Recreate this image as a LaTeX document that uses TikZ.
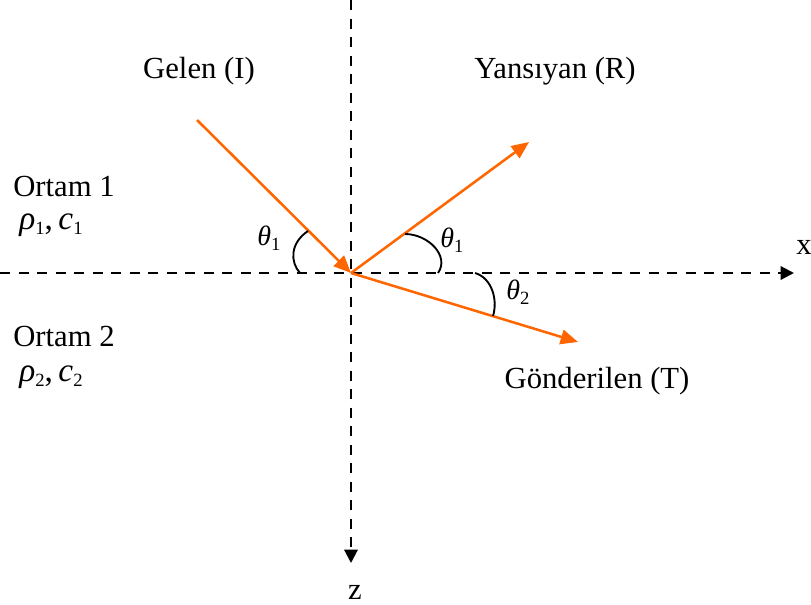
\documentclass[tikz,border=0pt]{standalone}
\usepackage{fontspec}
\setmainfont{Liberation Serif}
\usetikzlibrary{arrows.meta, positioning}
\definecolor{rayorange}{RGB}{255,102,0}
\tikzset{
  axisline/.style={line width=1.6pt, dash pattern=on 7.5pt off 6.4pt, -{Triangle[length=10pt,width=10pt]}},
  ray/.style={rayorange, line width=1.9pt, -{Triangle[length=13pt,width=11pt]}},
  anglearc/.style={line width=1.4pt},
  lbl/.style={font=\fontsize{23}{27}\selectfont, inner sep=0pt},
  medlbl/.style={font=\fontsize{25}{29}\selectfont, inner sep=0pt, anchor=west},
  anglbl/.style={font=\fontsize{21}{24}\selectfont, inner sep=0pt},
}
\newcommand{\lowsub}[1]{\raisebox{-0.35ex}{\fontsize{14}{16}\selectfont #1}}

\begin{document}
\begin{tikzpicture}[x=0.75pt,y=-0.75pt]
\useasboundingbox (0,0) rectangle (811,604);

% axes
\coordinate (O) at (351,273);
\coordinate (ztop) at (351,0);
\coordinate (zend) at (351,563);
\coordinate (xleft) at (0,273);
\coordinate (xend) at (794,273);
\draw[axisline] (ztop) -- (zend);
\draw[axisline] (xleft) -- (xend);
\node[lbl] (xlab) at (804,247) {x};
\node[lbl] (zlab) at (355,592) {z};

% rays
\coordinate (inc) at (197,120);
\coordinate (refl) at (529,142);
\coordinate (trans) at (578,342);
\draw[ray] (inc) -- (O);
\draw[ray] (O) -- (refl);
\draw[ray] (O) -- (trans);
\node[lbl] (gelen) at (199,71) {Gelen (I)};
\node[lbl] (yansiyan) at (555,71) {Yansıyan (R)};
\node[lbl] (gonderilen) at (597,381) {Gönderilen (T)};

% angles
\draw[anglearc] (308,231) .. controls (290,243) and (290,262) .. (300,273);
\draw[anglearc] (405,234) .. controls (428,234) and (450,256) .. (438,273);
\draw[anglearc] (475,273) .. controls (492,278) and (498,300) .. (493,316);
\node[anglbl] (th1l) at (269,238) {\textit{θ}\lowsub{1}};
\node[anglbl] (th1r) at (452,240) {\textit{θ}\lowsub{1}};
\node[anglbl] (th2) at (518,292) {\textit{θ}\lowsub{2}};

% media
\node[lbl, anchor=west] (ortam1) at (13,186) {Ortam 1};
\node[medlbl] (med1) at (19,225) {\textit{ρ}\lowsub{1},\,\textit{c}\lowsub{1}};
\node[lbl, anchor=west] (ortam2) at (13,336) {Ortam 2};
\node[medlbl] (med2) at (19,377) {\textit{ρ}\lowsub{2},\,\textit{c}\lowsub{2}};
\end{tikzpicture}
\end{document}
